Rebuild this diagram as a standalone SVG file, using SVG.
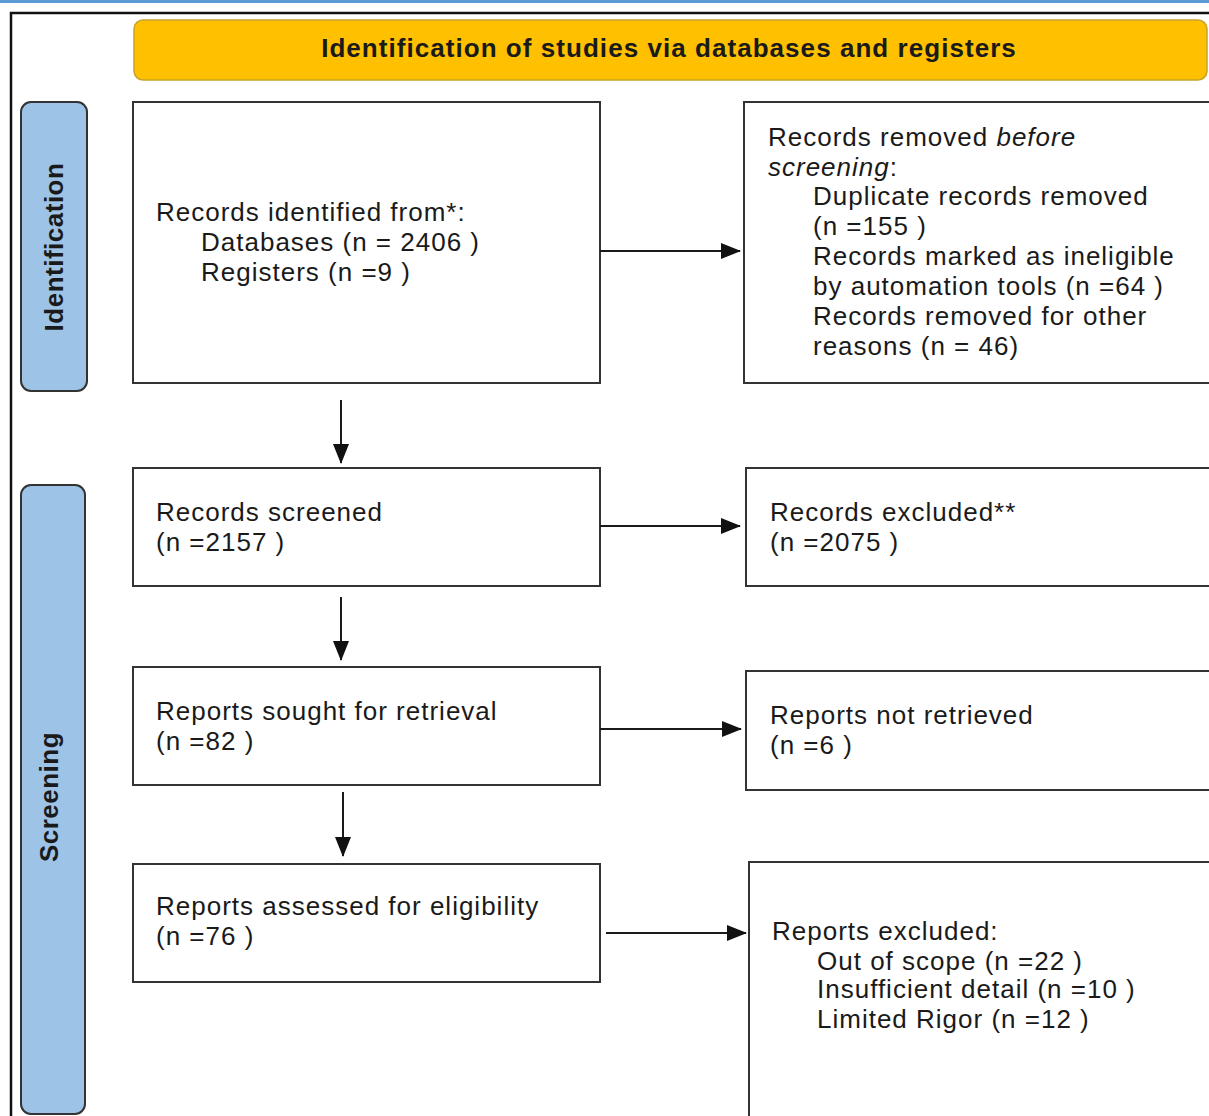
<svg xmlns="http://www.w3.org/2000/svg" width="1209" height="1116" viewBox="0 0 1209 1116">
<style>
.box{fill:#fff;stroke:#333;stroke-width:2}
.side{fill:#9dc3e6;stroke:#333;stroke-width:2}
.t{font-family:"Liberation Sans",Arial,sans-serif;font-size:26px;letter-spacing:1px;fill:#1a1a1a}
.hb{font-family:"Liberation Sans",Arial,sans-serif;font-size:26px;font-weight:bold;letter-spacing:1.05px;fill:#1a1a1a}
.sb{font-family:"Liberation Sans",Arial,sans-serif;font-size:26px;font-weight:bold;letter-spacing:0.5px;fill:#1a1a1a}
.c{stroke:#1a1a1a;stroke-width:2;fill:none;marker-end:url(#ah)}
</style>
<defs>
<marker id="ah" markerUnits="userSpaceOnUse" markerWidth="20" markerHeight="16" refX="19" refY="8" orient="auto">
<path d="M0,0 L20,8 L0,16 Z" fill="#111"/>
</marker>
</defs>
<rect x="0" y="0" width="1209" height="3" fill="#5b9bd5"/>
<rect x="11" y="13" width="1230" height="1130" fill="none" stroke="#111" stroke-width="2.5"/>

<g id="header">
<rect x="134" y="20" width="1073" height="60" rx="9" fill="#ffc000" stroke="#c9a227" stroke-width="1.5"/>
<text class="hb" x="669" y="57" text-anchor="middle">Identification of studies via databases and registers</text>
</g>

<g id="side-identification">
<rect class="side" x="21" y="102" width="66" height="289" rx="10"/>
<text class="sb" transform="translate(63,247) rotate(-90)" text-anchor="middle">Identification</text>
</g>
<g id="side-screening">
<rect class="side" x="21" y="485" width="64" height="629" rx="10"/>
<text class="sb" transform="translate(58,797) rotate(-90)" text-anchor="middle">Screening</text>
</g>

<g id="identified">
<rect class="box" x="133" y="102" width="467" height="281"/>
<text class="t" x="156" y="221">Records identified from*:</text>
<text class="t" x="201" y="251">Databases (n = 2406 )</text>
<text class="t" x="201" y="281">Registers (n =9 )</text>
</g>

<g id="removed">
<rect class="box" x="744" y="102" width="480" height="281"/>
<text class="t" x="768" y="146">Records removed <tspan font-style="italic">before</tspan></text>
<text class="t" x="768" y="176"><tspan font-style="italic">screening</tspan>:</text>
<text class="t" x="813" y="205">Duplicate records removed</text>
<text class="t" x="813" y="235">(n =155 )</text>
<text class="t" x="813" y="265">Records marked as ineligible</text>
<text class="t" x="813" y="295">by automation tools (n =64 )</text>
<text class="t" x="813" y="325">Records removed for other</text>
<text class="t" x="813" y="355">reasons (n = 46)</text>
</g>

<g id="screened">
<rect class="box" x="133" y="468" width="467" height="118"/>
<text class="t" x="156" y="521">Records screened</text>
<text class="t" x="156" y="551">(n =2157 )</text>
</g>

<g id="excluded">
<rect class="box" x="746" y="468" width="480" height="118"/>
<text class="t" x="770" y="521">Records excluded**</text>
<text class="t" x="770" y="551">(n =2075 )</text>
</g>

<g id="sought">
<rect class="box" x="133" y="667" width="467" height="118"/>
<text class="t" x="156" y="720">Reports sought for retrieval</text>
<text class="t" x="156" y="750">(n =82 )</text>
</g>

<g id="not-retrieved">
<rect class="box" x="746" y="671" width="480" height="119"/>
<text class="t" x="770" y="724">Reports not retrieved</text>
<text class="t" x="770" y="754">(n =6 )</text>
</g>

<g id="assessed">
<rect class="box" x="133" y="864" width="467" height="118"/>
<text class="t" x="156" y="915">Reports assessed for eligibility</text>
<text class="t" x="156" y="945">(n =76 )</text>
</g>

<g id="reports-excluded">
<rect class="box" x="749" y="862" width="480" height="280"/>
<text class="t" x="772" y="940">Reports excluded:</text>
<text class="t" x="817" y="970">Out of scope (n =22 )</text>
<text class="t" x="817" y="998">Insufficient detail (n =10 )</text>
<text class="t" x="817" y="1028">Limited Rigor (n =12 )</text>
</g>

<g id="connectors">
<line class="c" x1="600" y1="251" x2="740" y2="251"/>
<line class="c" x1="341" y1="400" x2="341" y2="463"/>
<line class="c" x1="600" y1="526" x2="740" y2="526"/>
<line class="c" x1="341" y1="597" x2="341" y2="660"/>
<line class="c" x1="600" y1="729" x2="741" y2="729"/>
<line class="c" x1="343" y1="792" x2="343" y2="856"/>
<line class="c" x1="606" y1="933" x2="746" y2="933"/>
</g>
</svg>
